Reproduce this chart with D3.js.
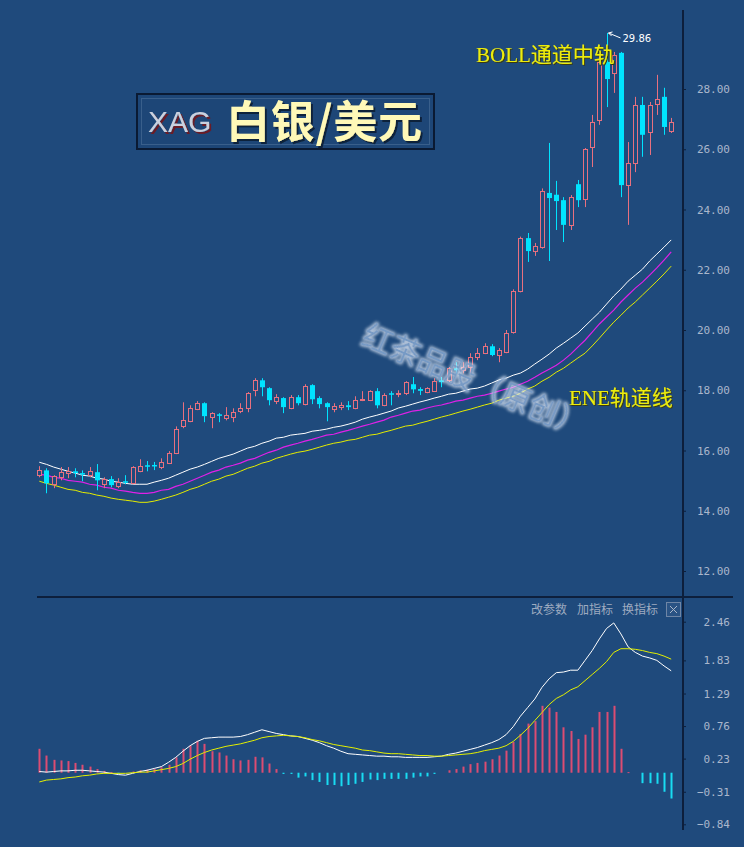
<!DOCTYPE html>
<html><head><meta charset="utf-8">
<script src="https://cdn.jsdelivr.net/npm/d3@7"></script>
<style>
html,body{margin:0;padding:0;background:#1f4a7c;}
svg{display:block;}
</style></head>
<body>
<svg id="c" width="744" height="847"></svg>
<script>
// ---------- DATA ----------
const categories = d3.range(89);
const openV  = [15.18,15.34,14.88,15.11,15.25,15.31,15.25,15.18,15.28,14.88,15.05,14.82,14.98,14.91,15.31,15.51,15.52,15.45,15.58,15.91,16.81,16.97,17.37,17.57,17.11,17.20,17.07,17.11,17.30,17.40,18.00,18.33,18.07,17.64,17.74,17.40,17.77,17.54,18.17,17.74,17.57,17.37,17.44,17.50,17.40,17.67,17.67,17.97,17.50,17.90,17.87,17.90,18.20,18.04,17.94,17.97,18.33,18.33,18.73,18.66,18.77,19.10,19.23,19.46,19.17,19.27,19.92,21.29,23.05,22.62,22.75,24.55,24.49,24.31,23.49,24.84,24.35,26.08,26.97,28.90,28.53,29.20,24.81,25.54,27.47,26.57,27.50,27.74,26.61];
const highV  = [15.48,15.41,15.18,15.45,15.45,15.41,15.34,15.45,15.55,15.11,15.15,15.08,15.18,15.48,15.71,15.65,15.62,15.74,15.98,16.80,17.60,17.50,17.64,17.60,17.27,17.24,17.44,17.40,17.57,17.94,18.40,18.40,18.10,17.87,17.77,17.84,17.84,18.20,18.20,17.80,17.60,17.57,17.60,17.64,17.80,17.97,18.00,18.07,17.90,17.97,18.00,18.30,18.44,18.10,18.10,18.40,18.44,18.77,18.93,18.93,19.23,19.40,19.56,19.53,19.40,20.00,21.35,23.10,23.22,22.89,24.70,26.21,24.95,24.41,24.48,24.98,26.04,27.14,29.13,29.86,29.23,29.23,26.24,27.74,27.74,27.57,28.47,28.04,27.04];
const lowV   = [15.11,14.58,14.75,15.01,15.08,15.11,14.98,15.11,14.68,14.75,14.78,14.75,14.88,14.88,15.28,15.31,15.35,15.38,15.55,15.88,16.74,16.94,17.34,16.94,16.74,16.94,17.00,16.94,17.24,17.27,17.80,17.80,17.50,17.54,17.24,17.37,17.50,17.50,17.54,17.40,16.97,17.27,17.34,17.34,17.37,17.64,17.64,17.40,17.47,17.50,17.77,17.84,17.90,17.84,17.90,17.94,18.10,18.27,18.56,18.56,18.56,19.00,19.20,19.13,18.93,19.23,19.88,21.25,22.26,22.46,22.70,22.29,23.32,22.92,23.32,24.08,24.08,25.41,26.81,27.40,27.87,24.41,23.49,25.24,25.75,25.81,27.14,26.48,26.54];
const closeV = [15.34,14.91,15.15,15.28,15.31,15.25,15.22,15.31,15.01,15.05,14.85,14.95,14.94,15.45,15.48,15.48,15.48,15.61,15.91,16.71,17.01,17.40,17.57,17.14,17.24,17.18,17.18,17.27,17.40,17.90,18.33,18.10,17.67,17.77,17.44,17.77,17.57,18.13,17.70,17.54,17.44,17.47,17.50,17.44,17.67,17.70,17.97,17.50,17.84,17.87,17.90,18.27,18.03,17.98,18.07,18.30,18.27,18.73,18.66,18.77,19.10,19.23,19.46,19.17,19.33,19.90,21.29,23.05,22.62,22.79,24.61,24.38,24.28,23.49,24.41,24.31,26.01,26.91,28.90,28.33,29.13,24.81,25.54,27.47,26.48,27.47,27.67,26.74,26.91];

const eneUpper = [15.61,15.54,15.45,15.38,15.31,15.25,15.18,15.15,15.08,15.05,14.98,14.95,14.91,14.88,14.88,14.88,14.95,15.01,15.08,15.18,15.28,15.38,15.45,15.54,15.64,15.74,15.81,15.88,15.98,16.08,16.14,16.24,16.31,16.41,16.44,16.51,16.54,16.57,16.64,16.67,16.71,16.77,16.81,16.87,16.94,17.04,17.11,17.17,17.24,17.31,17.41,17.47,17.54,17.61,17.67,17.74,17.80,17.87,17.90,17.97,18.04,18.07,18.14,18.24,18.34,18.40,18.50,18.57,18.70,18.87,19.03,19.20,19.40,19.56,19.73,19.90,20.13,20.36,20.59,20.86,21.13,21.36,21.62,21.82,22.02,22.29,22.52,22.75,22.99];
const eneMid   = [15.21,15.18,15.11,15.08,15.01,14.98,14.95,14.88,14.85,14.78,14.75,14.68,14.65,14.61,14.58,14.58,14.61,14.68,14.71,14.81,14.88,14.98,15.08,15.18,15.28,15.35,15.45,15.51,15.58,15.68,15.74,15.84,15.94,16.01,16.11,16.18,16.24,16.31,16.37,16.44,16.51,16.54,16.61,16.67,16.74,16.81,16.87,16.94,17.01,17.11,17.17,17.24,17.31,17.34,17.41,17.47,17.51,17.57,17.64,17.67,17.74,17.80,17.84,17.90,17.97,18.04,18.10,18.20,18.30,18.43,18.57,18.70,18.83,19.00,19.20,19.43,19.66,19.93,20.20,20.43,20.66,20.93,21.16,21.39,21.59,21.82,22.06,22.32,22.59];
const eneLower = [14.98,14.91,14.85,14.78,14.71,14.68,14.61,14.58,14.52,14.48,14.42,14.38,14.35,14.32,14.28,14.28,14.32,14.38,14.45,14.52,14.61,14.71,14.78,14.88,14.98,15.05,15.15,15.21,15.31,15.41,15.48,15.58,15.64,15.74,15.81,15.88,15.94,15.98,16.04,16.11,16.18,16.24,16.28,16.34,16.37,16.44,16.51,16.54,16.61,16.67,16.74,16.81,16.84,16.91,16.97,17.04,17.11,17.17,17.24,17.31,17.37,17.44,17.51,17.57,17.67,17.74,17.80,17.90,18.04,18.14,18.30,18.43,18.60,18.73,18.90,19.07,19.23,19.47,19.73,20.00,20.26,20.49,20.73,20.93,21.16,21.39,21.62,21.86,22.12];

const macdHist = [0.39,0.28,0.21,0.20,0.19,0.16,0.13,0.10,0.06,0.03,0.01,-0.01,0.00,0.02,0.04,0.05,0.06,0.09,0.13,0.25,0.39,0.44,0.52,0.47,0.35,0.33,0.28,0.22,0.20,0.21,0.26,0.25,0.15,0.06,-0.02,-0.02,-0.08,-0.06,-0.12,-0.15,-0.20,-0.20,-0.22,-0.20,-0.18,-0.15,-0.11,-0.12,-0.10,-0.10,-0.10,-0.10,-0.08,-0.06,-0.06,-0.02,0.00,0.04,0.06,0.10,0.14,0.16,0.18,0.22,0.28,0.36,0.50,0.63,0.80,0.84,1.09,1.06,0.99,0.74,0.68,0.55,0.62,0.74,0.99,0.99,1.09,0.39,0.01,0.00,-0.17,-0.17,-0.18,-0.31,-0.42];
const macdDif  = [0.02,0.01,0.02,0.03,0.03,0.04,0.04,0.03,0.02,0.01,-0.01,-0.03,-0.04,-0.01,0.02,0.04,0.07,0.10,0.17,0.25,0.35,0.44,0.51,0.56,0.57,0.58,0.58,0.58,0.59,0.62,0.66,0.70,0.67,0.64,0.62,0.60,0.59,0.56,0.53,0.49,0.44,0.40,0.35,0.31,0.30,0.29,0.28,0.27,0.27,0.26,0.26,0.25,0.25,0.25,0.25,0.26,0.27,0.30,0.32,0.35,0.38,0.41,0.45,0.49,0.54,0.62,0.75,0.92,1.06,1.20,1.39,1.53,1.63,1.64,1.67,1.67,1.83,1.99,2.18,2.35,2.44,2.26,2.05,1.96,1.90,1.87,1.83,1.74,1.66];
const macdDea  = [-0.15,-0.12,-0.11,-0.10,-0.08,-0.07,-0.05,-0.04,-0.02,-0.01,-0.01,-0.01,-0.01,0.00,0.01,0.01,0.03,0.05,0.07,0.10,0.15,0.22,0.28,0.33,0.37,0.40,0.43,0.45,0.47,0.50,0.53,0.57,0.59,0.60,0.61,0.60,0.59,0.57,0.54,0.52,0.49,0.46,0.44,0.42,0.40,0.37,0.36,0.34,0.32,0.31,0.31,0.30,0.29,0.28,0.28,0.27,0.27,0.28,0.29,0.30,0.31,0.33,0.36,0.38,0.40,0.44,0.51,0.61,0.72,0.85,0.98,1.11,1.21,1.27,1.35,1.40,1.50,1.60,1.70,1.81,1.96,2.02,2.02,2.01,1.99,1.96,1.94,1.90,1.85];

const priceTicks = [28, 26, 24, 22, 20, 18, 16, 14, 12];
const macdTicks  = [2.46, 1.83, 1.29, 0.76, 0.23, -0.31, -0.84];
const peakLabel  = 29.86;

// ---------- DRAWING ----------
const BG = '#1f4a7c', LINE = '#0d1f3c';
const UP = '#e8707f', DOWN = '#00e4ff';
const svg = d3.select('#c');
svg.append('rect').attr('width', 744).attr('height', 847).attr('fill', BG);

const defs = svg.append('defs');
function shadow(id, dx, dy, color, sd) {
  const f = defs.append('filter').attr('id', id).attr('x', '-10%').attr('y', '-30%').attr('width', '130%').attr('height', '160%');
  f.append('feDropShadow').attr('dx', dx).attr('dy', dy).attr('stdDeviation', sd).attr('flood-color', color).attr('flood-opacity', 1);
}
shadow('shXag', 2, 2, '#6a1f25', 0.3);
shadow('shCn', 2, 2, '#0e203a', 0.4);
shadow('shLbl', 1, 1, '#3b3b10', 0.3);
const wf = defs.append('filter').attr('id', 'wmf').attr('x', '-10%').attr('y', '-40%').attr('width', '120%').attr('height', '180%');
wf.append('feMorphology').attr('in', 'SourceAlpha').attr('operator', 'dilate').attr('radius', 1).attr('result', 'd');
wf.append('feGaussianBlur').attr('in', 'd').attr('stdDeviation', 1.8).attr('result', 'b');
wf.append('feFlood').attr('flood-color', '#eef5ff').attr('flood-opacity', 0.85);
wf.append('feComposite').attr('in2', 'b').attr('operator', 'in').attr('result', 'g');
const wm0 = wf.append('feMerge');
wm0.append('feMergeNode').attr('in', 'g');
wm0.append('feMergeNode').attr('in', 'SourceGraphic');

const x  = d3.scalePoint().domain(categories).range([39.3, 671.2]);
const y  = d3.scaleLinear().domain([12, 28]).range([571, 89]);
const ym = d3.scaleLinear().domain([-0.84, 2.46]).range([824.3, 621.7]);
const px = i => Math.round(x(i));

// title box
const tb = svg.append('g');
tb.append('rect').attr('x', 137).attr('y', 94).attr('width', 297).attr('height', 55)
  .attr('fill', '#1d4677').attr('stroke', '#0a1a33').attr('stroke-width', 2);
tb.append('rect').attr('x', 141.5).attr('y', 98.5).attr('width', 288).attr('height', 46)
  .attr('fill', 'none').attr('stroke', '#4d6f9a').attr('stroke-width', 1).attr('opacity', 0.6);
tb.append('text').attr('x', 148).attr('y', 132).text('XAG').attr('filter', 'url(#shXag)')
  .attr('font-family', 'Liberation Sans, Arial, sans-serif').attr('font-size', 30).attr('fill', '#c9d1df');
tb.append('text').attr('x', 226).attr('y', 138).text('白银/美元').attr('filter', 'url(#shCn)')
  .attr('font-family', 'Noto Sans CJK SC, sans-serif').attr('font-weight', 'bold').attr('font-size', 44)
  .attr('textLength', 196).attr('fill', '#fff9b8');

// ENE lines
const line = arr => d3.line().x((d, i) => x(i)).y(d => y(d))(arr);
svg.append('path').attr('d', line(eneUpper)).attr('fill', 'none').attr('stroke', '#ffffff').attr('stroke-width', 1);
svg.append('path').attr('d', line(eneMid)).attr('fill', 'none').attr('stroke', '#e020e8').attr('stroke-width', 1.2);
svg.append('path').attr('d', line(eneLower)).attr('fill', 'none').attr('stroke', '#e4ec00').attr('stroke-width', 1);

// candles
const cg = svg.append('g');
categories.forEach(i => {
  const o = openV[i], h = highV[i], l = lowV[i], c = closeV[i];
  const up = c > o;
  const col = up ? UP : DOWN;
  const cx = px(i);
  cg.append('line').attr('x1', cx + 0.5).attr('x2', cx + 0.5).attr('y1', y(h)).attr('y2', y(l))
    .attr('stroke', col).attr('stroke-width', 1);
  const top = y(Math.max(o, c)), bot = y(Math.min(o, c));
  const hgt = Math.max(1, bot - top);
  if (up) {
    cg.append('rect').attr('x', cx - 1.5).attr('y', Math.round(top) + 0.5).attr('width', 4).attr('height', Math.max(1, Math.round(hgt)))
      .attr('fill', BG).attr('stroke', col).attr('stroke-width', 1);
  } else {
    cg.append('rect').attr('x', cx - 2).attr('y', top).attr('width', 5).attr('height', Math.max(1.5, hgt))
      .attr('fill', col);
  }
});

// peak annotation
const pkX = px(79) + 0.5, pkY = y(peakLabel);
svg.append('path').attr('d', `M${pkX + 1},${pkY} L${pkX + 5},${pkY - 1} M${pkX + 1},${pkY} L${pkX + 4},${pkY + 3} M${pkX + 1},${pkY} L${pkX + 13},${pkY + 5}`)
  .attr('stroke', '#ffffff').attr('stroke-width', 1).attr('fill', 'none');
svg.append('text').attr('x', pkX + 15).attr('y', pkY + 9).text(d3.format('.2f')(peakLabel))
  .attr('font-family', 'DejaVu Sans, sans-serif').attr('font-size', 10).attr('fill', '#ffffff');

// labels
const serif = 'Liberation Serif, Noto Sans CJK SC, serif';
svg.append('text').attr('x', 476).attr('y', 62).text('BOLL通道中轨').attr('filter', 'url(#shLbl)')
  .attr('font-family', serif).attr('font-size', 21).attr('fill', '#ecec10');
svg.append('text').attr('x', 569).attr('y', 405).text('ENE轨道线').attr('filter', 'url(#shLbl)')
  .attr('font-family', serif).attr('font-size', 21).attr('fill', '#ecec10');

// watermark
svg.append('g').attr('transform', 'translate(360,343) rotate(23)')
  .append('text').text('红茶品股（原创）').attr('font-family', 'Noto Sans CJK SC, sans-serif')
  .attr('font-size', 30).attr('fill', '#86a8d2').attr('opacity', 0.85).attr('filter', 'url(#wmf)');

// separators
svg.append('line').attr('x1', 37).attr('x2', 733).attr('y1', 597).attr('y2', 597).attr('stroke', LINE).attr('stroke-width', 2);
svg.append('line').attr('x1', 683).attr('x2', 683).attr('y1', 10).attr('y2', 830).attr('stroke', LINE).attr('stroke-width', 2);

// axes
const styleAxis = (g) => {
  g.select('.domain').remove();
  g.selectAll('.tick line').attr('stroke', LINE).attr('stroke-width', 1);
  g.selectAll('.tick text').attr('x', 47).attr('text-anchor', 'end')
    .attr('font-family', 'DejaVu Sans Mono, monospace').attr('font-size', 11).attr('fill', '#aab7cc');
};
svg.append('g').attr('transform', 'translate(683,0)')
  .call(d3.axisRight(y).tickValues(priceTicks).tickFormat(d3.format('.2f')).tickSize(3)).call(styleAxis);
svg.append('g').attr('transform', 'translate(683,0)')
  .call(d3.axisRight(ym).tickValues(macdTicks).tickFormat(d3.format('.2f')).tickSize(3)).call(styleAxis);

// MACD histogram
const hg = svg.append('g');
categories.forEach(i => {
  const v = macdHist[i];
  if (Math.abs(v) < 0.005) return;
  const y0 = ym(0), y1 = ym(v);
  hg.append('rect').attr('x', px(i) - 0.5).attr('width', 2)
    .attr('y', Math.min(y0, y1)).attr('height', Math.max(1, Math.abs(y1 - y0)))
    .attr('fill', v > 0 ? '#dc4c72' : '#19dcf2');
});
const mline = arr => d3.line().x((d, i) => x(i)).y(d => ym(d))(arr);
svg.append('path').attr('d', mline(macdDif)).attr('fill', 'none').attr('stroke', '#ffffff').attr('stroke-width', 1);
svg.append('path').attr('d', mline(macdDea)).attr('fill', 'none').attr('stroke', '#e4f000').attr('stroke-width', 1);

// MACD panel buttons
const btn = ['改参数', '加指标', '换指标'];
const btnX = [531, 577, 622];
btn.forEach((t, k) => svg.append('text').attr('x', btnX[k]).attr('y', 614).text(t)
  .attr('font-family', 'Noto Sans CJK SC, sans-serif').attr('font-size', 12).attr('fill', '#9eabc0'));
svg.append('rect').attr('x', 666.5).attr('y', 602.5).attr('width', 14).attr('height', 14)
  .attr('fill', '#2a5384').attr('stroke', '#6f86a6').attr('stroke-width', 1);
svg.append('path').attr('d', 'M670,606 L677,613 M677,606 L670,613').attr('stroke', '#aab6c8').attr('stroke-width', 1);
</script>
</body></html>
